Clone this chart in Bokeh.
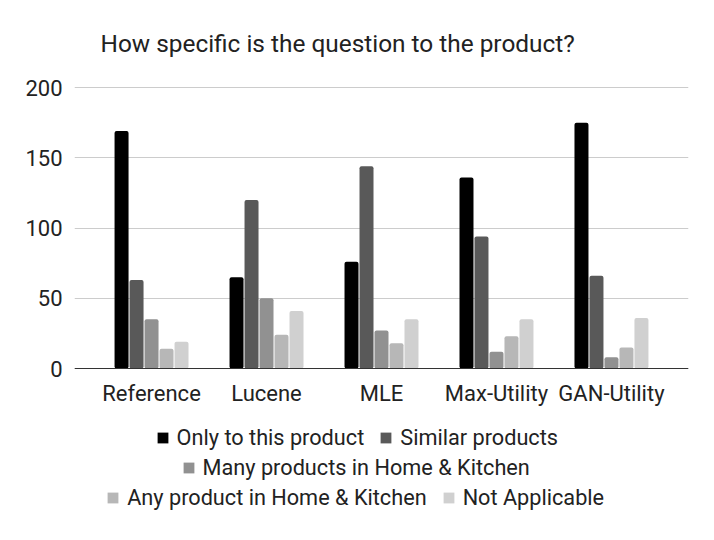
from bokeh.plotting import figure
from bokeh.models import ColumnDataSource, FixedTicker, Legend, LegendItem, Span, Range1d
from bokeh.core.properties import value
from bokeh.transform import dodge
from bokeh.embed import file_html
from bokeh.resources import INLINE

title = "How specific is the question to the product?"
categories = ["Reference", "Lucene", "MLE", "Max-Utility", "GAN-Utility"]
series_names = [
    "Only to this product",
    "Similar products",
    "Many products in Home & Kitchen",
    "Any product in Home & Kitchen",
    "Not Applicable",
]
only_this = [169, 65, 76, 136, 175]
similar = [63, 120, 144, 94, 66]
many_hk = [35, 50, 27, 12, 8]
any_hk = [14, 24, 18, 23, 15]
not_applicable = [19, 41, 35, 35, 36]
colors = ["#000000", "#595959", "#919191", "#b7b7b7", "#d0d0d0"]
y_ticks = [0, 50, 100, 150, 200]

series = [only_this, similar, many_hk, any_hk, not_applicable]

FONT = "Roboto"
TXT = "#222222"

# frame extends below the zero line to host category labels and legend rows
p = figure(
    width=698, height=524,
    x_range=Range1d(-0.67, 4.67), y_range=Range1d(-111.03, 203.56),
    output_backend="svg", toolbar_location=None,
    min_border_left=74, min_border_right=10,
    min_border_top=82, min_border_bottom=0,
)
p.outline_line_color = None
p.background_fill_color = "white"
p.border_fill_color = "white"

p.title.text = title
p.title.text_font = FONT
p.title.text_font_size = "24.4px"
p.title.text_font_style = "normal"
p.title.text_color = TXT
p.title.offset = 26
p.title.standoff = 49

data = {"x": list(range(len(categories))), "cat": categories}
for i, s in enumerate(series):
    data[f"s{i}"] = s
src = ColumnDataSource(data)

pitch = 0.1304
bw = 0.1217
legend_rs = []
for i in range(5):
    off = (i - 2) * pitch
    p.vbar(x=dodge("x", off), top=f"s{i}", width=bw, bottom=0, source=src,
           fill_color=colors[i], line_color=None, border_radius=2)
    # zero-size markers: only used to draw the square legend swatches
    r = p.scatter(x=dodge("x", off), y=f"s{i}", source=src, marker="square", size=0,
                  fill_color=colors[i], line_color=None)
    legend_rs.append(r)

# zero baseline
p.add_layout(Span(location=0, dimension="width", line_color="#333333", line_width=1.2))

# category labels under the baseline
p.text(x="x", y=0, text="cat", source=src, text_align="center",
       text_baseline="alphabetic", y_offset=25,
       text_font=value(FONT), text_font_size="22px", text_color=TXT)

p.xaxis.visible = False

p.yaxis.ticker = FixedTicker(ticks=y_ticks)
p.yaxis.major_tick_line_color = None
p.yaxis.major_tick_out = 0
p.yaxis.minor_tick_line_color = None
p.yaxis.minor_tick_out = 0
p.yaxis.axis_line_color = None
p.yaxis.major_label_standoff = 12
p.yaxis.major_label_text_font = FONT
p.yaxis.major_label_text_font_size = "22px"
p.yaxis.major_label_text_color = TXT

p.xgrid.grid_line_color = None
p.ygrid.grid_line_color = "#cccccc"
p.ygrid.ticker = FixedTicker(ticks=y_ticks)

rows = [([0, 1], (74.6, 73.0)), ([2], (100.6, 43.0)), ([3, 4], (25.2, 13.0))]
for idxs, loc in rows:
    items = [LegendItem(label=series_names[k], renderers=[legend_rs[k]]) for k in idxs]
    lg = Legend(items=items, location=loc, orientation="horizontal",
                glyph_width=27, glyph_height=27, label_standoff=1, spacing=8,
                padding=0, margin=0, border_line_color=None,
                background_fill_alpha=0,
                label_text_font=FONT, label_text_font_size="21.7px",
                label_text_color=TXT)
    p.add_layout(lg, "center")

open("out.html", "w").write(file_html(p, INLINE))
